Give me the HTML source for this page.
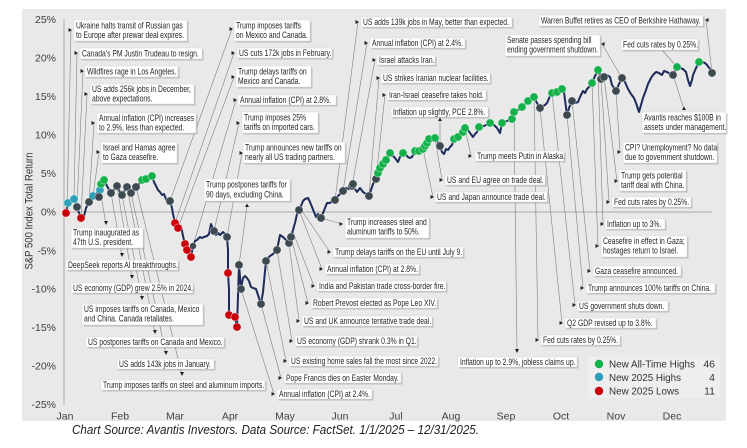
<!DOCTYPE html>
<html><head><meta charset="utf-8"><style>
html,body{margin:0;padding:0;background:#fff;}
svg{display:block;}
.a{font-family:"Liberation Sans",Arial,sans-serif;font-size:9px;fill:#262626;}
.t{font-family:"Liberation Sans",Arial,sans-serif;font-size:10.5px;fill:#404040;}
.lg{font-family:"Liberation Sans",Arial,sans-serif;font-size:10.5px;fill:#333;}
.sh{fill:#9a9a9a;opacity:.55;}
.bx{fill:#fff;stroke:#d8d8d8;stroke-width:.5;}
.ld{stroke:#808080;stroke-width:.6;fill:none;}
.ar{fill:#222;}
</style></head><body>
<svg width="747" height="448" viewBox="0 0 747 448" xmlns="http://www.w3.org/2000/svg">
<rect x="0" y="0" width="747" height="448" fill="#fff"/>
<rect x="22" y="9" width="704" height="412" fill="#e9e9e9"/>
<rect x="588" y="357" width="132" height="41" fill="#eeeeee"/>

<!-- axes -->
<line x1="64" y1="19" x2="64" y2="405" stroke="#a6a6a6" stroke-width="1"/>
<line x1="64" y1="212" x2="712" y2="212" stroke="#a6a6a6" stroke-width="1"/>

<!-- y ticks -->
<g class="t" text-anchor="end">
<text x="56" y="23">25%</text>
<text x="56" y="61.5">20%</text>
<text x="56" y="100">15%</text>
<text x="56" y="138.5">10%</text>
<text x="56" y="177">5%</text>
<text x="56" y="215.5">0%</text>
<text x="56" y="254.3">-5%</text>
<text x="56" y="292.7">-10%</text>
<text x="56" y="331">-15%</text>
<text x="56" y="369.7">-20%</text>
<text x="56" y="408">-25%</text>
</g>
<text class="t" transform="translate(32.5,211) rotate(-90)" text-anchor="middle" textLength="117" lengthAdjust="spacingAndGlyphs" style="font-size:11px;fill:#333">S&amp;P 500 Index Total Return</text>

<!-- months -->
<g class="t" text-anchor="middle">
<text x="65" y="419.5">Jan</text>
<text x="120" y="419.5">Feb</text>
<text x="175" y="419.5">Mar</text>
<text x="230" y="419.5">Apr</text>
<text x="285" y="419.5">May</text>
<text x="340" y="419.5">Jun</text>
<text x="396" y="419.5">Jul</text>
<text x="451" y="419.5">Aug</text>
<text x="506" y="419.5">Sep</text>
<text x="561" y="419.5">Oct</text>
<text x="616" y="419.5">Nov</text>
<text x="672" y="419.5">Dec</text>
</g>

<!-- caption -->
<text x="72" y="434" textLength="407" lengthAdjust="spacingAndGlyphs" style="font-family:'Liberation Sans',Arial,sans-serif;font-style:italic;font-size:12.5px;fill:#222">Chart Source: Avantis Investors. Data Source: FactSet. 1/1/2025 – 12/31/2025.</text>

<!-- leader lines -->
<g class="ld">
<line x1="71" y1="30" x2="67" y2="212"/>
<line x1="77" y1="53" x2="74" y2="199"/>
<line x1="83" y1="71" x2="77" y2="207"/>
<line x1="87" y1="94" x2="81" y2="218"/>
<line x1="94" y1="123" x2="89" y2="202"/>
<line x1="99" y1="152" x2="93" y2="196"/>
<line x1="106" y1="224" x2="100" y2="190"/>
<line x1="122" y1="256" x2="111" y2="193"/>
<line x1="132" y1="278" x2="117" y2="186"/>
<line x1="142" y1="299" x2="122" y2="195"/>
<line x1="155" y1="333" x2="127" y2="187"/>
<line x1="166" y1="354" x2="131" y2="193"/>
<line x1="182" y1="375" x2="136" y2="187"/>
<line x1="232" y1="29" x2="170" y2="201"/>
<line x1="234" y1="53" x2="175" y2="223"/>
<line x1="234" y1="77" x2="178" y2="228"/>
<line x1="236" y1="100" x2="193" y2="246"/>
<line x1="239" y1="123" x2="214" y2="231"/>
<line x1="242" y1="153" x2="227" y2="237"/>
<line x1="247" y1="206" x2="239" y2="265"/>
<line x1="274" y1="394" x2="241" y2="289"/>
<line x1="281" y1="378" x2="261" y2="304"/>
<line x1="286" y1="361" x2="266" y2="261"/>
<line x1="292" y1="341" x2="277" y2="250"/>
<line x1="299" y1="321" x2="289" y2="243"/>
<line x1="308" y1="303" x2="291" y2="237"/>
<line x1="314" y1="286" x2="293" y2="232"/>
<line x1="322" y1="269" x2="299" y2="210"/>
<line x1="330" y1="252" x2="300" y2="208"/>
<line x1="342" y1="224" x2="321" y2="218"/>
<line x1="358" y1="22" x2="335" y2="200"/>
<line x1="367" y1="43" x2="343" y2="191"/>
<line x1="375" y1="60" x2="352" y2="186"/>
<line x1="379" y1="78" x2="369" y2="196"/>
<line x1="385" y1="95" x2="376" y2="179"/>
<line x1="440" y1="117" x2="440" y2="146"/>
<line x1="433" y1="197" x2="423" y2="149"/>
<line x1="442" y1="180" x2="435" y2="138"/>
<line x1="471" y1="156" x2="465" y2="128"/>
<line x1="517" y1="352" x2="514" y2="112"/>
<line x1="538" y1="340" x2="534" y2="97"/>
<line x1="562" y1="323" x2="540" y2="108"/>
<line x1="575" y1="305" x2="552" y2="93"/>
<line x1="583" y1="288" x2="567" y2="115"/>
<line x1="590" y1="271" x2="572" y2="101"/>
<line x1="598" y1="246" x2="592" y2="83"/>
<line x1="603" y1="224" x2="598" y2="70"/>
<line x1="609" y1="202" x2="601" y2="79"/>
<line x1="617" y1="181" x2="604" y2="77"/>
<line x1="620" y1="152" x2="616" y2="91"/>
<line x1="602" y1="44" x2="622" y2="78"/>
<line x1="662" y1="50" x2="677" y2="67"/>
<line x1="684" y1="109" x2="673" y2="75"/>
<line x1="706" y1="20" x2="712" y2="73"/>
</g>

<!-- data line -->
<polyline fill="none" stroke="#1c2b5a" stroke-width="2" stroke-linejoin="round" points="66,213 68,203 71,201 74,199 77,207 79,213 81,218 84,216 86,208 89,202 91,200 93,196 96,194 100,190 103,182 104,179 107,186 111,193 114,190 117,186 120,192 122,195 125,190 127,187 129,191 131,193 134,189 136,187 139,184 142,181 145,179 149,177 152,176 154,182 156,186 158,190 160,192 162,195 164,194 166,199 168,204 170,201 172,208 173,214 175,223 178,228 181,226 183,236 185,244 187,250 189,254 191,257 193,246 195,241 197,240 200,237 202,238 204,237 207,236 209,234 211,224 214,231 216,235 218,233 220,235 223,232 225,234 227,237 228,250 228,273 229,290 229,315 232,318 235,317 237,327 239,265 241,289 243,278 245,276 247,278 249,281 251,287 253,288 256,289 258,295 261,304 263,292 266,261 268,258 270,256 273,254 275,252 277,250 279,240 280,235 283,237 286,240 289,243 291,237 293,230 295,223 297,214 299,210 301,206 303,201 305,199 308,198 310,202 312,207 314,212 316,217 318,214 321,218 323,213 325,208 327,203 330,203 332,201 335,200 338,196 341,193 343,191 346,188 349,189 352,186 353,184 355,189 357,192 360,188 363,192 366,194 369,196 371,190 373,184 376,179 378,173 380,168 383,164 386,160 390,153 393,156 395,158 398,162 400,157 403,153 406,155 408,157 410,158 412,157 415,151 419,151 423,149 425,146 427,143 429,139 432,139 435,138 437,141 440,146 442,152 444,154 446,149 448,150 450,147 452,145 454,139 458,137 463,132 465,128 468,130 470,133 473,137 475,134 477,132 479,127 484,126 490,123 494,125 497,128 500,133 502,123 507,121 512,119 514,112 518,110 522,107 525,104 528,101 531,99 534,97 537,103 540,108 543,106 545,105 547,103 550,96 552,93 557,92 562,89 564,92 565,100 567,115 569,108 572,101 575,103 578,102 580,97 583,91 585,93 587,89 590,86 592,83 595,76 598,70 601,76 604,77 607,75 610,77 612,85 616,91 619,84 622,78 625,82 628,89 631,94 634,98 636,103 639,112 641,105 643,98 646,90 648,84 651,78 653,75 656,72 659,73 662,75 664,71 667,72 670,74 673,75 677,67 680,68 683,69 686,72 688,80 690,86 692,80 693,75 696,68 699,62 702,62 705,63 707,65 710,69 712,73"/>

<!-- dots -->
<g stroke="#ffffff" stroke-width="0.6" stroke-opacity="0.6">
<g fill="#c8000a">
<circle cx="66" cy="213" r="4.1"/><circle cx="81" cy="218" r="4.1"/>
<circle cx="175" cy="223" r="4.1"/><circle cx="178" cy="228" r="4.1"/>
<circle cx="185" cy="244" r="4.1"/><circle cx="187" cy="250" r="4.1"/><circle cx="191" cy="257" r="4.1"/>
<circle cx="228" cy="273" r="4.1"/><circle cx="229" cy="315" r="4.1"/><circle cx="235" cy="317" r="4.1"/><circle cx="237" cy="327" r="4.1"/>
</g>
<g fill="#2a9fb6">
<circle cx="68" cy="203" r="4.1"/><circle cx="74" cy="199" r="4.1"/><circle cx="93" cy="196" r="4.1"/><circle cx="100" cy="190" r="4.1"/>
</g>
<g fill="#3c4a4f">
<circle cx="77" cy="207" r="4.1"/><circle cx="89" cy="202" r="4.1"/>
<circle cx="99" cy="197" r="4.1"/>
<circle cx="111" cy="193" r="4.1"/><circle cx="117" cy="186" r="4.1"/><circle cx="122" cy="195" r="4.1"/><circle cx="127" cy="187" r="4.1"/><circle cx="131" cy="193" r="4.1"/><circle cx="136" cy="187" r="4.1"/>
<circle cx="170" cy="201" r="4.1"/><circle cx="193" cy="246" r="3.4"/>
<circle cx="214" cy="231" r="4.1"/><circle cx="227" cy="237" r="4.1"/>
<circle cx="239" cy="265" r="4.1"/><circle cx="241" cy="289" r="4.1"/>
<circle cx="261" cy="304" r="4.1"/><circle cx="266" cy="261" r="4.1"/><circle cx="277" cy="250" r="4.1"/><circle cx="289" cy="243" r="4.1"/><circle cx="291" cy="237" r="4.1"/>
<circle cx="299" cy="210" r="4.1"/><circle cx="321" cy="218" r="4.1"/>
<circle cx="335" cy="200" r="4.1"/><circle cx="343" cy="191" r="4.1"/><circle cx="352" cy="186" r="4.1"/><circle cx="353" cy="184" r="4.1"/><circle cx="369" cy="196" r="4.1"/><circle cx="376" cy="179" r="4.1"/>
<circle cx="440" cy="146" r="4.1"/>
<circle cx="540" cy="108" r="4.1"/><circle cx="567" cy="115" r="4.1"/><circle cx="572" cy="101" r="4.1"/>
<circle cx="601" cy="79" r="4.1"/><circle cx="604" cy="77" r="4.1"/><circle cx="616" cy="91" r="4.1"/><circle cx="622" cy="78" r="4.1"/>
<circle cx="673" cy="75" r="4.1"/><circle cx="712" cy="73" r="4.1"/>
</g>
<g fill="#14b04a">
<circle cx="101" cy="184" r="4.1"/><circle cx="104" cy="180" r="4.1"/>
<circle cx="142" cy="180" r="4.1"/><circle cx="146" cy="179" r="4.1"/><circle cx="152" cy="176" r="4.1"/>
<circle cx="378" cy="173" r="4.1"/><circle cx="380" cy="168" r="4.1"/><circle cx="383" cy="164" r="4.1"/><circle cx="386" cy="160" r="4.1"/><circle cx="390" cy="153" r="4.1"/>
<circle cx="403" cy="153" r="4.1"/><circle cx="415" cy="151" r="4.1"/><circle cx="419" cy="151" r="4.1"/><circle cx="423" cy="149" r="4.1"/><circle cx="425" cy="146" r="4.1"/><circle cx="427" cy="143" r="4.1"/><circle cx="429" cy="139" r="4.1"/><circle cx="435" cy="138" r="4.1"/>
<circle cx="454" cy="139" r="4.1"/><circle cx="458" cy="137" r="4.1"/><circle cx="463" cy="132" r="4.1"/><circle cx="465" cy="128" r="4.1"/>
<circle cx="479" cy="127" r="4.1"/><circle cx="490" cy="123" r="4.1"/><circle cx="502" cy="123" r="4.1"/><circle cx="512" cy="119" r="4.1"/><circle cx="514" cy="112" r="4.1"/>
<circle cx="522" cy="107" r="4.1"/><circle cx="528" cy="101" r="4.1"/><circle cx="534" cy="97" r="4.1"/>
<circle cx="552" cy="93" r="4.1"/><circle cx="557" cy="92" r="4.1"/><circle cx="562" cy="89" r="4.1"/>
<circle cx="592" cy="83" r="4.1"/><circle cx="598" cy="70" r="4.1"/>
<circle cx="677" cy="67" r="4.1"/><circle cx="699" cy="62" r="4.1"/>
</g>
</g>

<!-- arrows -->
<g class="ar">
<polygon points="68.5,28 72,30 68.5,32"/>
<polygon points="74.5,51 78,53 74.5,55"/>
<polygon points="80.5,69 84,71 80.5,73"/>
<polygon points="84.5,92 88,94 84.5,96"/>
<polygon points="91.5,121 95,123 91.5,125"/>
<polygon points="96.5,150 100,152 96.5,154"/>
<polygon points="104,221 108,221 106,225"/>
<polygon points="120,253 124,253 122,257"/>
<polygon points="130,275 134,275 132,279"/>
<polygon points="140,296 144,296 142,300"/>
<polygon points="153,330 157,330 155,334"/>
<polygon points="164,351 168,351 166,355"/>
<polygon points="180,372 184,372 182,376"/>
<polygon points="229.5,27 233,29 229.5,31"/>
<polygon points="231.5,51 235,53 231.5,55"/>
<polygon points="231.5,75 235,77 231.5,79"/>
<polygon points="233.5,98 237,100 233.5,102"/>
<polygon points="236.5,121 240,123 236.5,125"/>
<polygon points="239.5,151 243,153 239.5,155"/>
<polygon points="245,207 249,207 247,203.5"/>
<polygon points="339.5,222 343,224 339.5,226"/>
<polygon points="327.5,250 331,252 327.5,254"/>
<polygon points="319.5,267 323,269 319.5,271"/>
<polygon points="311.5,284 315,286 311.5,288"/>
<polygon points="305.5,301 309,303 305.5,305"/>
<polygon points="296.5,319 300,321 296.5,323"/>
<polygon points="289.5,339 293,341 289.5,343"/>
<polygon points="283.5,359 287,361 283.5,363"/>
<polygon points="278.5,376 282,378 278.5,380"/>
<polygon points="271.5,392 275,394 271.5,396"/>
<polygon points="515,349 519,349 517,353"/>
<polygon points="355.5,20 359,22 355.5,24"/>
<polygon points="364.5,41 368,43 364.5,45"/>
<polygon points="372.5,58 376,60 372.5,62"/>
<polygon points="376.5,76 380,78 376.5,80"/>
<polygon points="382.5,93 386,95 382.5,97"/>
<polygon points="438,121 442,121 440,117.5"/>
<polygon points="468.5,154 472,156 468.5,158"/>
<polygon points="439.5,178 443,180 439.5,182"/>
<polygon points="430.5,195 434,197 430.5,199"/>
<polygon points="708.5,18 705,20 708.5,22"/>
<polygon points="604.5,42 601,44 604.5,46"/>
<polygon points="682,110 686,110 684,106.5"/>
<polygon points="617.5,150 621,152 617.5,154"/>
<polygon points="614.5,179 618,181 614.5,183"/>
<polygon points="606.5,200 610,202 606.5,204"/>
<polygon points="600.5,222 604,224 600.5,226"/>
<polygon points="595.5,244 599,246 595.5,248"/>
<polygon points="587.5,269 591,271 587.5,273"/>
<polygon points="580.5,286 584,288 580.5,290"/>
<polygon points="572.5,303 576,305 572.5,307"/>
<polygon points="559.5,321 563,323 559.5,325"/>
<polygon points="535.5,338 539,340 535.5,342"/>
</g>

<!-- annotation boxes -->
<g>
<rect class="sh" x="75.5" y="21.5" width="113" height="21"/><rect class="bx" x="74" y="20" width="113" height="21"/>
<text class="a" transform="translate(76,28.5) scale(0.755,1)">Ukraine halts transit of Russian gas</text>
<text class="a" transform="translate(76,38) scale(0.755,1)">to Europe after prewar deal expires.</text>
<rect class="sh" x="81.5" y="49.5" width="122" height="11"/><rect class="bx" x="80" y="48" width="122" height="11"/>
<text class="a" transform="translate(82,56.5) scale(0.755,1)">Canada's PM Justin Trudeau to resign.</text>
<rect class="sh" x="86.5" y="67.5" width="93" height="11"/><rect class="bx" x="85" y="66" width="93" height="11"/>
<text class="a" transform="translate(87,74.5) scale(0.755,1)">Wildfires rage in Los Angeles.</text>
<rect class="sh" x="91.5" y="85.5" width="104" height="20"/><rect class="bx" x="90" y="84" width="104" height="20"/>
<text class="a" transform="translate(92,92) scale(0.755,1)">US adds 256k jobs in December,</text>
<text class="a" transform="translate(92,101.5) scale(0.755,1)">above expectations.</text>
<rect class="sh" x="98.5" y="114.5" width="99" height="20"/><rect class="bx" x="97" y="113" width="99" height="20"/>
<text class="a" transform="translate(99,121) scale(0.755,1)">Annual inflation (CPI) increases</text>
<text class="a" transform="translate(99,130.5) scale(0.755,1)">to 2.9%, less than expected.</text>
<rect class="sh" x="102.5" y="143.5" width="76" height="21"/><rect class="bx" x="101" y="142" width="76" height="21"/>
<text class="a" transform="translate(103,150.5) scale(0.755,1)">Israel and Hamas agree</text>
<text class="a" transform="translate(103,160) scale(0.755,1)">to Gaza ceasefire.</text>
<rect class="sh" x="72.5" y="229.5" width="72" height="20"/><rect class="bx" x="71" y="228" width="72" height="20"/>
<text class="a" transform="translate(73,235.5) scale(0.755,1)">Trump inaugurated as</text>
<text class="a" transform="translate(73,245) scale(0.755,1)">47th U.S. president.</text>
<rect class="sh" x="67.5" y="261.5" width="112" height="10"/><rect class="bx" x="66" y="260" width="112" height="10"/>
<text class="a" transform="translate(68,268) scale(0.755,1)">DeepSeek reports AI breakthroughs.</text>
<rect class="sh" x="72.5" y="284.5" width="122" height="10"/><rect class="bx" x="71" y="283" width="122" height="10"/>
<text class="a" transform="translate(73,291) scale(0.755,1)">US economy (GDP) grew 2.5% in 2024.</text>
<rect class="sh" x="83.5" y="305.5" width="121" height="21"/><rect class="bx" x="82" y="304" width="121" height="21"/>
<text class="a" transform="translate(84,312) scale(0.755,1)">US imposes tariffs on Canada, Mexico</text>
<text class="a" transform="translate(84,321.5) scale(0.755,1)">and China. Canada retaliates.</text>
<rect class="sh" x="87.5" y="338.5" width="138" height="10"/><rect class="bx" x="86" y="337" width="138" height="10"/>
<text class="a" transform="translate(88,345) scale(0.755,1)">US postpones tariffs on Canada and Mexico.</text>
<rect class="sh" x="118.5" y="360.5" width="97" height="10"/><rect class="bx" x="117" y="359" width="97" height="10"/>
<text class="a" transform="translate(119,367) scale(0.755,1)">US adds 143k jobs in January.</text>
<rect class="sh" x="102.5" y="381.5" width="164" height="10"/><rect class="bx" x="101" y="380" width="164" height="10"/>
<text class="a" transform="translate(103,388) scale(0.755,1)">Trump imposes tariffs on steel and aluminum imports.</text>
<rect class="sh" x="235.5" y="21.5" width="76" height="21"/><rect class="bx" x="234" y="20" width="76" height="21"/>
<text class="a" transform="translate(236,28.5) scale(0.755,1)">Trump imposes tariffs</text>
<text class="a" transform="translate(236,38) scale(0.755,1)">on Mexico and Canada.</text>
<rect class="sh" x="238.5" y="49.5" width="95" height="10"/><rect class="bx" x="237" y="48" width="95" height="10"/>
<text class="a" transform="translate(239,56) scale(0.755,1)">US cuts 172k jobs in February.</text>
<rect class="sh" x="237.5" y="67.5" width="75" height="21"/><rect class="bx" x="236" y="66" width="75" height="21"/>
<text class="a" transform="translate(238,74.5) scale(0.755,1)">Trump delays tariffs on</text>
<text class="a" transform="translate(238,84) scale(0.755,1)">Mexico and Canada.</text>
<rect class="sh" x="239.5" y="96.5" width="98" height="10"/><rect class="bx" x="238" y="95" width="98" height="10"/>
<text class="a" transform="translate(240,103) scale(0.755,1)">Annual inflation (CPI) at 2.8%.</text>
<rect class="sh" x="243.5" y="113.5" width="76" height="21"/><rect class="bx" x="242" y="112" width="76" height="21"/>
<text class="a" transform="translate(244,120.5) scale(0.755,1)">Trump imposes 25%</text>
<text class="a" transform="translate(244,130) scale(0.755,1)">tariffs on imported cars.</text>
<rect class="sh" x="244.5" y="143.5" width="102" height="21"/><rect class="bx" x="243" y="142" width="102" height="21"/>
<text class="a" transform="translate(245,150.5) scale(0.755,1)">Trump announces new tariffs on</text>
<text class="a" transform="translate(245,160) scale(0.755,1)">nearly all US trading partners.</text>
<rect class="sh" x="205.5" y="180.5" width="86" height="22"/><rect class="bx" x="204" y="179" width="86" height="22"/>
<text class="a" transform="translate(206,187.5) scale(0.755,1)">Trump postpones tariffs for</text>
<text class="a" transform="translate(206,197.5) scale(0.755,1)">90 days, excluding China.</text>
<rect class="sh" x="346.5" y="218.5" width="84" height="21"/><rect class="bx" x="345" y="217" width="84" height="21"/>
<text class="a" transform="translate(347,225) scale(0.755,1)">Trump increases steel and</text>
<text class="a" transform="translate(347,234.5) scale(0.755,1)">aluminum tariffs to 50%.</text>
<rect class="sh" x="334.5" y="248.5" width="130" height="10"/><rect class="bx" x="333" y="247" width="130" height="10"/>
<text class="a" transform="translate(335,255) scale(0.755,1)">Trump delays tariffs on the EU until July 9.</text>
<rect class="sh" x="326.5" y="265.5" width="94" height="10"/><rect class="bx" x="325" y="264" width="94" height="10"/>
<text class="a" transform="translate(327,272) scale(0.755,1)">Annual inflation (CPI) at 2.8%.</text>
<rect class="sh" x="318.5" y="282.5" width="129" height="10"/><rect class="bx" x="317" y="281" width="129" height="10"/>
<text class="a" transform="translate(319,289) scale(0.755,1)">India and Pakistan trade cross-border fire.</text>
<rect class="sh" x="312.5" y="299.5" width="126" height="10"/><rect class="bx" x="311" y="298" width="126" height="10"/>
<text class="a" transform="translate(313,306) scale(0.755,1)">Robert Prevost elected as Pope Leo XIV.</text>
<rect class="sh" x="303.5" y="317.5" width="130" height="10"/><rect class="bx" x="302" y="316" width="130" height="10"/>
<text class="a" transform="translate(304,324) scale(0.755,1)">US and UK announce tentative trade deal.</text>
<rect class="sh" x="296.5" y="337.5" width="122" height="10"/><rect class="bx" x="295" y="336" width="122" height="10"/>
<text class="a" transform="translate(297,344) scale(0.755,1)">US economy (GDP) shrank 0.3% in Q1.</text>
<rect class="sh" x="290.5" y="357.5" width="149" height="10"/><rect class="bx" x="289" y="356" width="149" height="10"/>
<text class="a" transform="translate(291,364) scale(0.755,1)">US existing home sales fall the most since 2022.</text>
<rect class="sh" x="285.5" y="374.5" width="117" height="10"/><rect class="bx" x="284" y="373" width="117" height="10"/>
<text class="a" transform="translate(286,381) scale(0.755,1)">Pope Francis dies on Easter Monday.</text>
<rect class="sh" x="278.5" y="390.5" width="95" height="10"/><rect class="bx" x="277" y="389" width="95" height="10"/>
<text class="a" transform="translate(279,397) scale(0.755,1)">Annual inflation (CPI) at 2.4%.</text>
<rect class="sh" x="459.5" y="358.5" width="119" height="10"/><rect class="bx" x="458" y="357" width="119" height="10"/>
<text class="a" transform="translate(460,365) scale(0.755,1)">Inflation up to 2.9%, jobless claims up.</text>
<rect class="sh" x="362.5" y="18.5" width="151" height="10"/><rect class="bx" x="361" y="17" width="151" height="10"/>
<text class="a" transform="translate(363,25) scale(0.755,1)">US adds 139k jobs in May, better than expected.</text>
<rect class="sh" x="371.5" y="39.5" width="95" height="10"/><rect class="bx" x="370" y="38" width="95" height="10"/>
<text class="a" transform="translate(372,46) scale(0.755,1)">Annual inflation (CPI) at 2.4%.</text>
<rect class="sh" x="378.5" y="56.5" width="58" height="10"/><rect class="bx" x="377" y="55" width="58" height="10"/>
<text class="a" transform="translate(379,63) scale(0.755,1)">Israel attacks Iran.</text>
<rect class="sh" x="382.5" y="74.5" width="109" height="10"/><rect class="bx" x="381" y="73" width="109" height="10"/>
<text class="a" transform="translate(383,81) scale(0.755,1)">US strikes Iranian nuclear facilities.</text>
<rect class="sh" x="388.5" y="91.5" width="99" height="10"/><rect class="bx" x="387" y="90" width="99" height="10"/>
<text class="a" transform="translate(389,98) scale(0.755,1)">Iran-Israel ceasefire takes hold.</text>
<rect class="sh" x="392.5" y="108.5" width="97" height="10"/><rect class="bx" x="391" y="107" width="97" height="10"/>
<text class="a" transform="translate(393,115) scale(0.755,1)">Inflation up slightly, PCE 2.8%.</text>
<rect class="sh" x="476.5" y="152.5" width="89" height="10"/><rect class="bx" x="475" y="151" width="89" height="10"/>
<text class="a" transform="translate(477,159) scale(0.755,1)">Trump meets Putin in Alaska.</text>
<rect class="sh" x="446.5" y="176.5" width="100" height="10"/><rect class="bx" x="445" y="175" width="100" height="10"/>
<text class="a" transform="translate(447,183) scale(0.755,1)">US and EU agree on trade deal.</text>
<rect class="sh" x="436.5" y="193.5" width="112" height="10"/><rect class="bx" x="435" y="192" width="112" height="10"/>
<text class="a" transform="translate(437,200) scale(0.755,1)">US and Japan announce trade deal.</text>
<rect class="sh" x="540.5" y="16.5" width="164" height="11"/><rect class="bx" x="539" y="15" width="164" height="11"/>
<text class="a" transform="translate(541,23.5) scale(0.755,1)">Warren Buffet retires as CEO of Berkshire Hathaway.</text>
<rect class="sh" x="506.5" y="36.5" width="95" height="21"/><rect class="bx" x="505" y="35" width="95" height="21"/>
<text class="a" transform="translate(507,43) scale(0.755,1)">Senate passes spending bill</text>
<text class="a" transform="translate(507,52.5) scale(0.755,1)">ending government shutdown.</text>
<rect class="sh" x="622.5" y="40.5" width="77" height="11"/><rect class="bx" x="621" y="39" width="77" height="11"/>
<text class="a" transform="translate(623,47.5) scale(0.755,1)">Fed cuts rates by 0.25%.</text>
<rect class="sh" x="643.5" y="113.5" width="84" height="21"/><rect class="bx" x="642" y="112" width="84" height="21"/>
<text class="a" transform="translate(644,120.5) scale(0.755,1)">Avantis reaches $100B in</text>
<text class="a" transform="translate(644,130) scale(0.755,1)">assets under management.</text>
<rect class="sh" x="624.5" y="143.5" width="94" height="21"/><rect class="bx" x="623" y="142" width="94" height="21"/>
<text class="a" transform="translate(625,150.5) scale(0.755,1)">CPI? Unemployment? No data</text>
<text class="a" transform="translate(625,160) scale(0.755,1)">due to government shutdown.</text>
<rect class="sh" x="620.5" y="171.5" width="67" height="21"/><rect class="bx" x="619" y="170" width="67" height="21"/>
<text class="a" transform="translate(621,178.5) scale(0.755,1)">Trump gets potential</text>
<text class="a" transform="translate(621,188) scale(0.755,1)">tariff deal with China.</text>
<rect class="sh" x="613.5" y="198.5" width="79" height="10"/><rect class="bx" x="612" y="197" width="79" height="10"/>
<text class="a" transform="translate(614,205) scale(0.755,1)">Fed cuts rates by 0.25%.</text>
<rect class="sh" x="606.5" y="220.5" width="60" height="10"/><rect class="bx" x="605" y="219" width="60" height="10"/>
<text class="a" transform="translate(607,227) scale(0.755,1)">Inflation up to 3%.</text>
<rect class="sh" x="602.5" y="237.5" width="86" height="21"/><rect class="bx" x="601" y="236" width="86" height="21"/>
<text class="a" transform="translate(603,244) scale(0.755,1)">Ceasefire in effect in Gaza;</text>
<text class="a" transform="translate(603,253.5) scale(0.755,1)">hostages return to Israel.</text>
<rect class="sh" x="594.5" y="267.5" width="88" height="10"/><rect class="bx" x="593" y="266" width="88" height="10"/>
<text class="a" transform="translate(595,274) scale(0.755,1)">Gaza ceasefire announced.</text>
<rect class="sh" x="587.5" y="284.5" width="129" height="10"/><rect class="bx" x="586" y="283" width="129" height="10"/>
<text class="a" transform="translate(588,291) scale(0.755,1)">Trump announces 100% tariffs on China.</text>
<rect class="sh" x="578.5" y="302.5" width="91" height="10"/><rect class="bx" x="577" y="301" width="91" height="10"/>
<text class="a" transform="translate(579,309) scale(0.755,1)">US government shuts down.</text>
<rect class="sh" x="566.5" y="319.5" width="91" height="10"/><rect class="bx" x="565" y="318" width="91" height="10"/>
<text class="a" transform="translate(567,326) scale(0.755,1)">Q2 GDP revised up to 3.8%.</text>
<rect class="sh" x="542.5" y="336.5" width="79" height="10"/><rect class="bx" x="541" y="335" width="79" height="10"/>
<text class="a" transform="translate(543,343) scale(0.755,1)">Fed cuts rates by 0.25%.</text>
</g>

<!-- legend -->
<circle cx="599" cy="364" r="4.2" fill="#14b04a"/>
<circle cx="599" cy="377" r="4.2" fill="#2a9fb6"/>
<circle cx="599" cy="391" r="4.2" fill="#c8000a"/>
<text class="lg" x="609" y="367.5" textLength="86" lengthAdjust="spacingAndGlyphs">New All-Time Highs</text>
<text class="lg" x="609" y="381" textLength="72" lengthAdjust="spacingAndGlyphs">New 2025 Highs</text>
<text class="lg" x="609" y="394.5" textLength="70" lengthAdjust="spacingAndGlyphs">New 2025 Lows</text>
<text class="lg" x="715" y="367.5" text-anchor="end">46</text>
<text class="lg" x="715" y="381" text-anchor="end">4</text>
<text class="lg" x="715" y="394.5" text-anchor="end">11</text>
</svg>
</body></html>
